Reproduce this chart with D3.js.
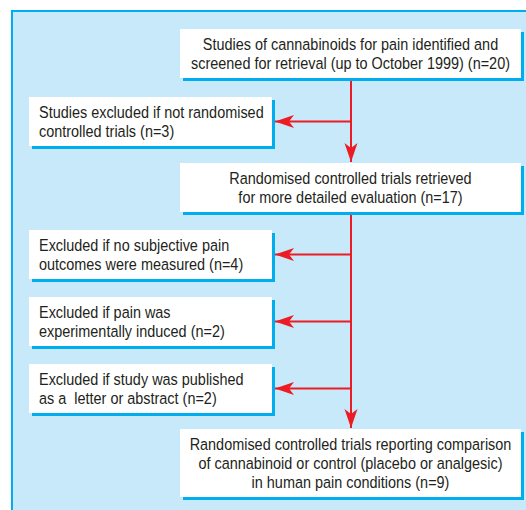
<!DOCTYPE html>
<html>
<head>
<meta charset="utf-8">
<script src="https://cdn.jsdelivr.net/npm/d3@7"></script>
<style>
  html, body { margin: 0; padding: 0; background: #ffffff; }
  svg { display: block; }
</style>
</head>
<body>
<svg id="chart" width="526" height="510"></svg>
<script>
// ---- data ----
const mainSteps = [
  ["Studies of cannabinoids for pain identified and", "screened for retrieval (up to October 1999) (n=20)"],
  ["Randomised controlled trials retrieved", "for more detailed evaluation (n=17)"],
  ["Randomised controlled trials reporting comparison", "of cannabinoid or control (placebo or analgesic)", "in human pain conditions (n=9)"]
];
const exclusions = [
  ["Studies excluded if not randomised", "controlled trials (n=3)"],
  ["Excluded if no subjective pain", "outcomes were measured (n=4)"],
  ["Excluded if pain was", "experimentally induced (n=2)"],
  ["Excluded if study was published", "as a  letter or abstract (n=2)"]
];

// ---- layout ----
const C = {
  panelFill: "#c7e9f9", panelStroke: "#00aeef", shadow: "#00aeef",
  red: "#ed1c24", text: "#231f20"
};
const mainX = [180, 521];
const mainY = [[29, 78], [163, 212], [429, 497]];
const exclX = [29, 272];
const exclY = [[97, 146], [230, 279], [297, 346], [364, 413]];
const lineH = 19, capH = 12, shadowOff = 3;
const spineX = 351;
const fontSize = 16.5, squeeze = 0.875;

const svg = d3.select("#chart");
const font = "'Liberation Sans', Arial, sans-serif";

svg.append("rect").attr("x", 0).attr("y", 0).attr("width", 526).attr("height", 510).attr("fill", "#fff");
// panel
svg.append("rect").attr("x", 12).attr("y", 11).attr("width", 530).attr("height", 520)
  .attr("fill", C.panelFill).attr("stroke", C.panelStroke).attr("stroke-width", 2);

function drawBox(g, x0, x1, y0, y1, lines, align) {
  g.append("rect").attr("x", x0 + shadowOff).attr("y", y0 + shadowOff)
    .attr("width", x1 - x0).attr("height", y1 - y0).attr("fill", C.shadow);
  g.append("rect").attr("x", x0).attr("y", y0)
    .attr("width", x1 - x0).attr("height", y1 - y0).attr("fill", "#fff");
  const cy = (y0 + y1) / 2;
  const first = cy - (capH + (lines.length - 1) * lineH) / 2 + capH;
  const tx = align === "middle" ? (x0 + x1) / 2 : x0 + 10;
  const t = g.append("text")
    .attr("transform", `translate(${tx},0) scale(${squeeze},1)`)
    .attr("font-family", font).attr("font-size", fontSize).attr("fill", C.text)
    .attr("text-anchor", align === "middle" ? "middle" : "start")
    .style("white-space", "pre");
  t.selectAll("tspan").data(lines).join("tspan")
    .attr("x", 0)
    .attr("y", (d, i) => first + i * lineH)
    .text(d => d);
}

// arrowheads
const defs = svg.append("defs");
defs.append("marker").attr("id", "arrowH")
  .attr("viewBox", "-20 -8 22 16").attr("refX", 0).attr("refY", 0)
  .attr("markerUnits", "userSpaceOnUse").attr("markerWidth", 22).attr("markerHeight", 16)
  .attr("orient", "auto")
  .append("path").attr("d", "M0,0 L-19,-6.5 L-14,0 L-19,6.5 Z").attr("fill", C.red);

const lines = svg.append("g").attr("stroke", C.red).attr("stroke-width", 2).attr("fill", "none");
for (let i = 0; i < mainSteps.length - 1; i++) {
  lines.append("line").attr("x1", spineX).attr("x2", spineX)
    .attr("y1", mainY[i][1] + shadowOff).attr("y2", mainY[i + 1][0] - 1)
    .attr("marker-end", "url(#arrowH)");
}
exclusions.forEach((e, i) => {
  const cy = (exclY[i][0] + exclY[i][1]) / 2;
  lines.append("line").attr("x1", spineX).attr("x2", exclX[1] + shadowOff)
    .attr("y1", cy).attr("y2", cy).attr("marker-end", "url(#arrowH)");
});

const boxes = svg.append("g");
mainSteps.forEach((s, i) => drawBox(boxes, mainX[0], mainX[1], mainY[i][0], mainY[i][1], s, "middle"));
exclusions.forEach((s, i) => drawBox(boxes, exclX[0], exclX[1], exclY[i][0], exclY[i][1], s, "start"));
</script>
</body>
</html>
